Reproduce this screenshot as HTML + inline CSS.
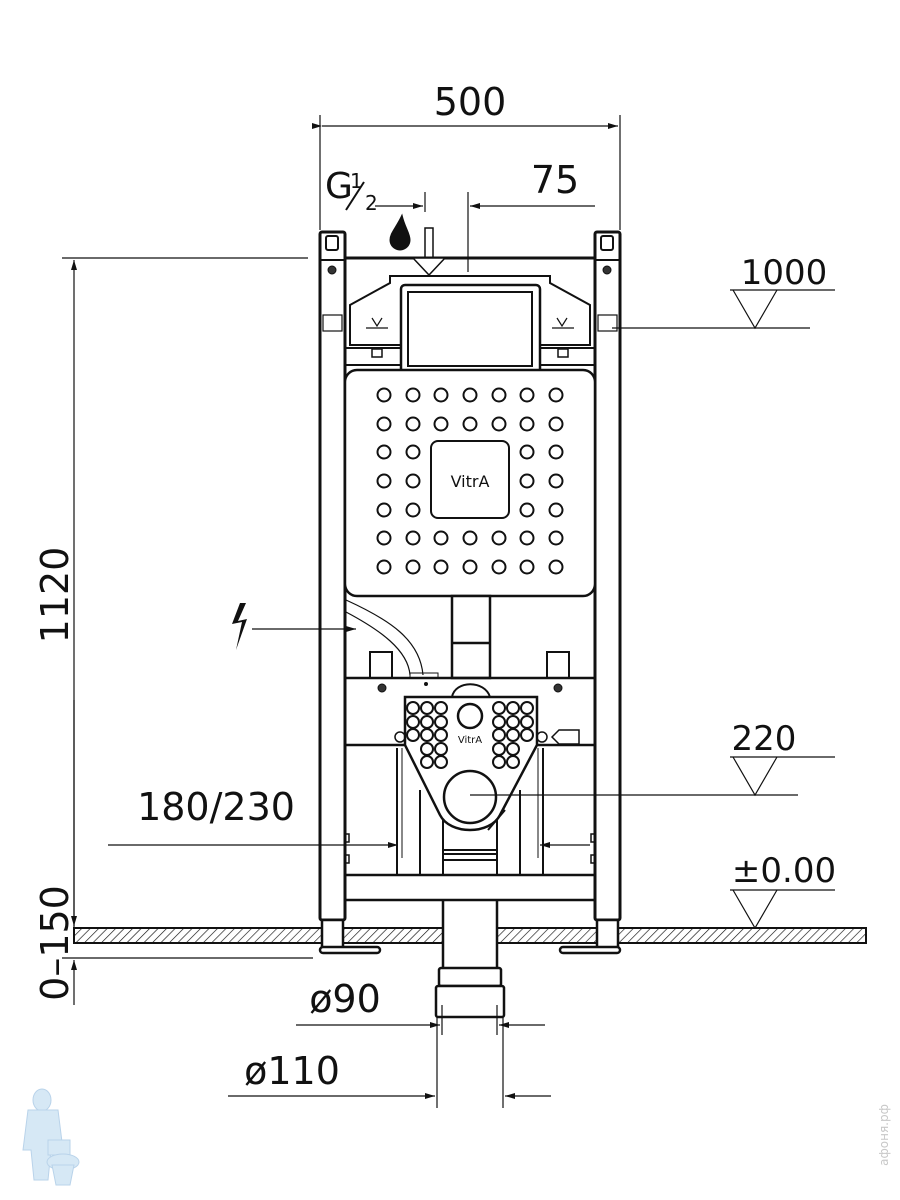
<!DOCTYPE html>
<html><head><meta charset="utf-8"><style>
html,body{margin:0;padding:0;background:#fff;width:900px;height:1200px;overflow:hidden}
svg{display:block}
text{font-family:"DejaVu Sans","Liberation Sans",sans-serif;fill:#111}
</style></head><body>
<svg width="900" height="1200" viewBox="0 0 900 1200" xmlns="http://www.w3.org/2000/svg">
<defs>
<pattern id="h" width="6" height="6" patternUnits="userSpaceOnUse" patternTransform="rotate(45)">
<line x1="0" y1="0" x2="0" y2="6" stroke="#111" stroke-width="1.3"/></pattern>
<marker id="a" markerWidth="10" markerHeight="6" refX="10" refY="3" orient="auto" markerUnits="userSpaceOnUse" viewBox="0 0 10 6"><path d="M0,0L10,3L0,6z" fill="#111"/></marker>
</defs>
<g stroke="#111" fill="none">
<rect x="74" y="928" width="792" height="15" fill="url(#h)" stroke-width="2"/>
<rect x="443" y="926" width="54" height="19" fill="#fff" stroke="none"/>
<rect x="320" y="232" width="25" height="688" fill="#fff" stroke-width="3" rx="2"/>
<rect x="595" y="232" width="25" height="688" fill="#fff" stroke-width="3" rx="2"/>
<rect x="322" y="920" width="21" height="28" fill="#fff" stroke-width="2.5"/>
<rect x="597" y="920" width="21" height="28" fill="#fff" stroke-width="2.5"/>
<rect x="320" y="947" width="60" height="6" rx="3" stroke-width="2.5" fill="#fff"/>
<rect x="560" y="947" width="60" height="6" rx="3" stroke-width="2.5" fill="#fff"/>
<line x1="345" y1="258" x2="595" y2="258" stroke-width="3"/>
<line x1="320" y1="260" x2="345" y2="260" stroke-width="2"/>
<line x1="595" y1="260" x2="620" y2="260" stroke-width="2"/>
<path d="M350,305 L390,283 L390,276 L550,276 L550,283 L590,305 L590,345 L350,345 Z" stroke-width="2"/>
<line x1="345" y1="348" x2="595" y2="348" stroke-width="2"/>
<line x1="345" y1="365" x2="595" y2="365" stroke-width="2"/>
<rect x="401" y="285" width="139" height="88" rx="4" stroke-width="2.5" fill="#fff"/>
<rect x="408" y="292" width="124" height="74" stroke-width="2"/>
<rect x="372" y="349" width="10" height="8" stroke-width="1.5"/>
<rect x="558" y="349" width="10" height="8" stroke-width="1.5"/>
<rect x="425" y="228" width="8" height="30" stroke-width="1.5"/>
<path d="M413,258 L445,258 L429,275 Z" stroke-width="1.5" fill="#fff"/>
<g stroke-width="1.2"><line x1="366" y1="328" x2="388" y2="328"/><path d="M372,318 l5,8 l5,-8"/>
<line x1="552" y1="328" x2="574" y2="328"/><path d="M557,318 l5,8 l5,-8"/>
<rect x="323" y="315" width="19" height="16"/><rect x="598" y="315" width="19" height="16"/></g>
<g stroke-width="2"><rect x="326" y="236" width="12" height="14" rx="2"/><rect x="601" y="236" width="12" height="14" rx="2"/></g>
<circle cx="332" cy="270" r="4" fill="#333"/><circle cx="607" cy="270" r="4" fill="#333"/>
<rect x="345" y="370" width="250" height="226" rx="12" stroke-width="2.5" fill="#fff"/>
<rect x="431" y="441" width="78" height="77" rx="7" stroke-width="2"/>
</g>
<g stroke="#111" stroke-width="2" fill="none">
<circle cx="384" cy="395" r="6.5"/><circle cx="413" cy="395" r="6.5"/><circle cx="441" cy="395" r="6.5"/><circle cx="470" cy="395" r="6.5"/><circle cx="499" cy="395" r="6.5"/><circle cx="527" cy="395" r="6.5"/><circle cx="556" cy="395" r="6.5"/>
<circle cx="384" cy="424" r="6.5"/><circle cx="413" cy="424" r="6.5"/><circle cx="441" cy="424" r="6.5"/><circle cx="470" cy="424" r="6.5"/><circle cx="499" cy="424" r="6.5"/><circle cx="527" cy="424" r="6.5"/><circle cx="556" cy="424" r="6.5"/>
<circle cx="384" cy="452" r="6.5"/><circle cx="413" cy="452" r="6.5"/><circle cx="527" cy="452" r="6.5"/><circle cx="556" cy="452" r="6.5"/>
<circle cx="384" cy="481" r="6.5"/><circle cx="413" cy="481" r="6.5"/><circle cx="527" cy="481" r="6.5"/><circle cx="556" cy="481" r="6.5"/>
<circle cx="384" cy="510" r="6.5"/><circle cx="413" cy="510" r="6.5"/><circle cx="527" cy="510" r="6.5"/><circle cx="556" cy="510" r="6.5"/>
<circle cx="384" cy="538" r="6.5"/><circle cx="413" cy="538" r="6.5"/><circle cx="441" cy="538" r="6.5"/><circle cx="470" cy="538" r="6.5"/><circle cx="499" cy="538" r="6.5"/><circle cx="527" cy="538" r="6.5"/><circle cx="556" cy="538" r="6.5"/>
<circle cx="384" cy="567" r="6.5"/><circle cx="413" cy="567" r="6.5"/><circle cx="441" cy="567" r="6.5"/><circle cx="470" cy="567" r="6.5"/><circle cx="499" cy="567" r="6.5"/><circle cx="527" cy="567" r="6.5"/><circle cx="556" cy="567" r="6.5"/>
</g>
<text x="470" y="487" font-size="16" text-anchor="middle">VitrA</text>
<g stroke="#111" fill="none">
<rect x="452" y="596" width="38" height="82" stroke-width="2.5" fill="#fff"/>
<line x1="452" y1="643" x2="490" y2="643" stroke-width="2.5"/>
<path d="M346,600 C390,620 420,640 423,675" stroke-width="1.2"/>
<path d="M346,612 C380,630 408,650 410,675" stroke-width="1.2"/>
<rect x="410" y="673" width="28" height="5" stroke-width="1"/>
<rect x="370" y="652" width="22" height="26" stroke-width="2"/><rect x="547" y="652" width="22" height="26" stroke-width="2"/>
<circle cx="382" cy="688" r="4" fill="#333"/><circle cx="558" cy="688" r="4" fill="#333"/>
<circle cx="426" cy="684" r="1.5" fill="#111"/>
<line x1="345" y1="678" x2="595" y2="678" stroke-width="2.5"/>
<line x1="345" y1="745" x2="595" y2="745" stroke-width="2.5"/>
<line x1="345" y1="875" x2="595" y2="875" stroke-width="2.5"/>
<line x1="345" y1="900" x2="595" y2="900" stroke-width="2.5"/>
<g stroke-width="2"><line x1="397" y1="748" x2="397" y2="875"/><line x1="420" y1="790" x2="420" y2="875"/><line x1="443" y1="820" x2="443" y2="875"/><line x1="497" y1="820" x2="497" y2="875"/><line x1="520" y1="790" x2="520" y2="875"/><line x1="543" y1="748" x2="543" y2="875"/></g>
<line x1="402" y1="748" x2="402" y2="858" stroke-width="1"/><line x1="538" y1="748" x2="538" y2="858" stroke-width="1"/>
<g stroke-width="2"><line x1="443" y1="850" x2="497" y2="850"/><line x1="443" y1="854" x2="497" y2="854"/><line x1="443" y1="860" x2="497" y2="860"/></g>
<path d="M452,697 C455,680 485,680 490,697" stroke-width="2"/>
<path d="M405,697 L537,697 L537,745 L500,815 C490,835 450,835 440,815 L405,745 Z" stroke-width="2.5" fill="#fff"/>
<circle cx="470" cy="797" r="26" stroke-width="2.5"/>
<circle cx="470" cy="716" r="12" stroke-width="2.5"/>
<path d="M488,830 L505,810" stroke-width="2"/>
<circle cx="400" cy="737" r="5" stroke-width="1.5"/><circle cx="542" cy="737" r="5" stroke-width="1.5"/>
<path d="M552,737 l7,-7 h20 v14 h-20 z" stroke-width="1.5"/>
<g stroke-width="1.5"><rect x="345" y="834" width="4" height="8"/><rect x="345" y="855" width="4" height="8"/><rect x="591" y="834" width="4" height="8"/><rect x="591" y="855" width="4" height="8"/></g>
<line x1="443" y1="900" x2="443" y2="968" stroke-width="2.5"/><line x1="497" y1="900" x2="497" y2="968" stroke-width="2.5"/>
<rect x="439" y="968" width="62" height="18" rx="2" stroke-width="2.5" fill="#fff"/>
<rect x="436" y="986" width="68" height="31" rx="2" stroke-width="2.5" fill="#fff"/>
</g>
<g stroke="#111" stroke-width="2" fill="none">
<circle cx="413" cy="708" r="6"/><circle cx="427" cy="708" r="6"/><circle cx="441" cy="708" r="6"/>
<circle cx="413" cy="722" r="6"/><circle cx="427" cy="722" r="6"/><circle cx="441" cy="722" r="6"/>
<circle cx="413" cy="735" r="6"/><circle cx="427" cy="735" r="6"/><circle cx="441" cy="735" r="6"/>
<circle cx="427" cy="749" r="6"/><circle cx="441" cy="749" r="6"/>
<circle cx="427" cy="762" r="6"/><circle cx="441" cy="762" r="6"/>
<circle cx="527" cy="708" r="6"/><circle cx="513" cy="708" r="6"/><circle cx="499" cy="708" r="6"/>
<circle cx="527" cy="722" r="6"/><circle cx="513" cy="722" r="6"/><circle cx="499" cy="722" r="6"/>
<circle cx="527" cy="735" r="6"/><circle cx="513" cy="735" r="6"/><circle cx="499" cy="735" r="6"/>
<circle cx="513" cy="749" r="6"/><circle cx="499" cy="749" r="6"/>
<circle cx="513" cy="762" r="6"/><circle cx="499" cy="762" r="6"/>
</g>
<text x="470" y="743" font-size="10" text-anchor="middle">VitrA</text>
<g stroke="#111" stroke-width="1.2" fill="none">
<line x1="320" y1="115" x2="320" y2="230"/><line x1="620" y1="115" x2="620" y2="230"/>
<line x1="322" y1="126" x2="618" y2="126" marker-end="url(#a)" marker-start="url(#a)"/>
<line x1="425" y1="192" x2="425" y2="212"/><line x1="375" y1="206" x2="423" y2="206" marker-end="url(#a)"/>
<line x1="468" y1="192" x2="468" y2="272"/><line x1="595" y1="206" x2="470" y2="206" marker-end="url(#a)"/>
<line x1="62" y1="258" x2="308" y2="258"/>
<line x1="74" y1="928" x2="74" y2="260" marker-end="url(#a)"/>
<line x1="74" y1="700" x2="74" y2="926" marker-end="url(#a)"/>
<line x1="62" y1="958" x2="313" y2="958"/>
<line x1="74" y1="1005" x2="74" y2="960" marker-end="url(#a)"/>
<line x1="730" y1="290" x2="835" y2="290"/><path d="M733,290 L755,328 L777,290"/>
<line x1="612" y1="328" x2="810" y2="328"/>
<line x1="730" y1="757" x2="835" y2="757"/><path d="M733,757 L755,795 L777,757"/>
<line x1="470" y1="795" x2="798" y2="795"/>
<line x1="730" y1="890" x2="835" y2="890"/><path d="M733,890 L755,928 L777,890"/>
<line x1="108" y1="845" x2="398" y2="845" marker-end="url(#a)"/>
<line x1="590" y1="845" x2="540" y2="845" marker-end="url(#a)"/>
<line x1="252" y1="629" x2="356" y2="629" marker-end="url(#a)"/>
<line x1="437" y1="1017" x2="437" y2="1108"/><line x1="503" y1="1017" x2="503" y2="1108"/>
<line x1="442" y1="1005" x2="442" y2="1035"/><line x1="497" y1="1005" x2="497" y2="1035"/>
<line x1="296" y1="1025" x2="440" y2="1025" marker-end="url(#a)"/>
<line x1="545" y1="1025" x2="499" y2="1025" marker-end="url(#a)"/>
<line x1="228" y1="1096" x2="435" y2="1096" marker-end="url(#a)"/>
<line x1="551" y1="1096" x2="505" y2="1096" marker-end="url(#a)"/>
</g>
<path d="M402,215 C396,228 390,233 390,240 A10,10 0 0 0 410,240 C410,233 405,228 402,215 Z" fill="#111" stroke="#111"/>
<path d="M240,603 L232,624 L242,622 L236,650 L247,619 L238,621 L246,603 Z" fill="#111"/>
<g font-size="38">
<text x="470" y="115" text-anchor="middle">500</text>
<text x="555" y="193" text-anchor="middle">75</text>
<text x="325" y="198" font-size="36">G</text>
<text x="350" y="188" font-size="20">1</text><text x="365" y="210" font-size="20">2</text>
<text x="784" y="284" text-anchor="middle" font-size="34">1000</text>
<text x="764" y="750" text-anchor="middle" font-size="34">220</text>
<text x="784" y="882" text-anchor="middle" font-size="34">±0.00</text>
<text x="216" y="820" text-anchor="middle">180/230</text>
<text x="345" y="1012" text-anchor="middle">ø90</text>
<text x="292" y="1084" text-anchor="middle">ø110</text>
<text transform="translate(68,595) rotate(-90)" text-anchor="middle">1120</text>
<text transform="translate(68,943) rotate(-90)" text-anchor="middle">0–150</text>
</g>
<line x1="346" y1="210" x2="364" y2="182" stroke="#111" stroke-width="2"/>
<text transform="translate(888,1135) rotate(-90)" font-size="12" text-anchor="middle" style="fill:#c8c8c8">афоня.рф</text>
<g fill="#d6e8f5" stroke="#b9d3ea"><ellipse cx="42" cy="1100" rx="9" ry="11"/><path d="M28,1110 h30 l5,40 h-12 l-3,30 h-14 l-3,-30 h-8z"/><path d="M48,1140 h22 v15 h-22z"/><ellipse cx="63" cy="1162" rx="16" ry="8"/><path d="M52,1165 h22 l-4,20 h-14z"/></g>
</svg>
</body></html>
